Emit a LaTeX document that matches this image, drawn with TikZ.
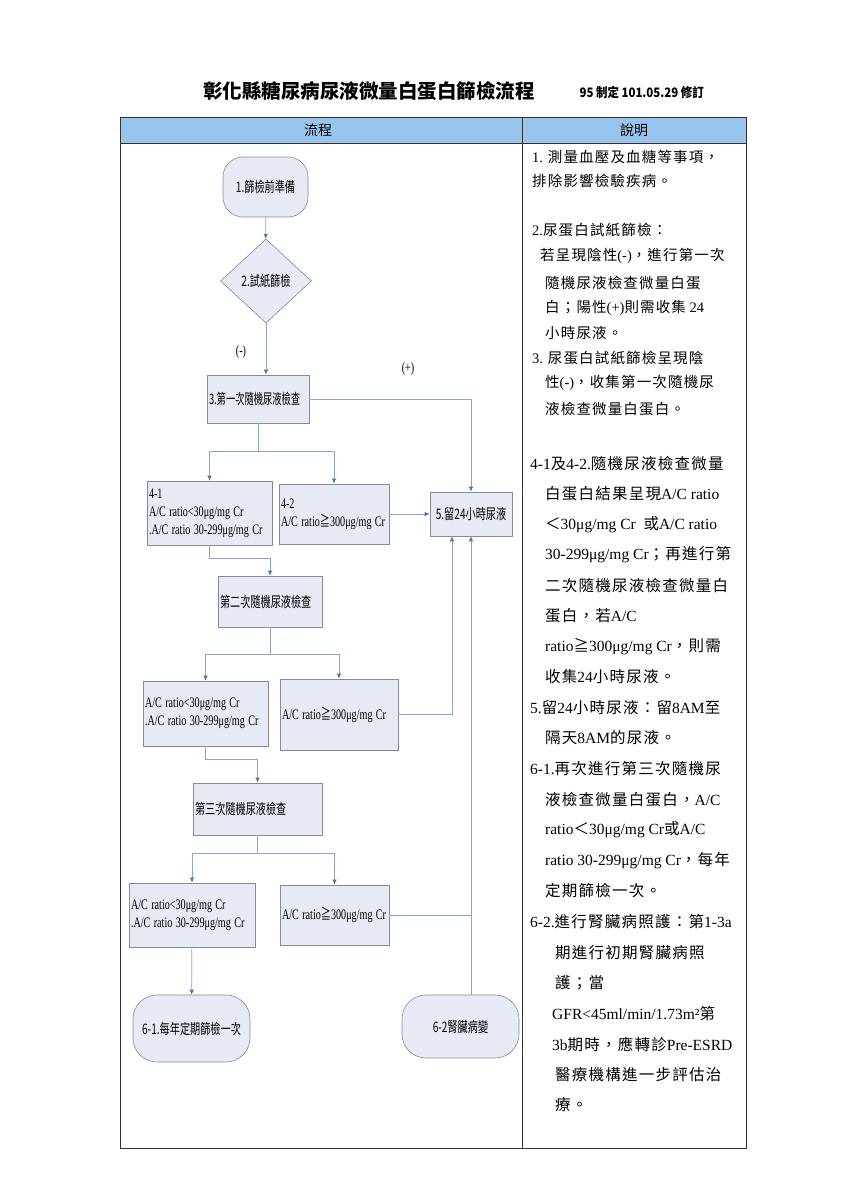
\documentclass[tikz,border=0pt]{standalone}
\usepackage{fontspec}
\usepackage{graphicx}
\usetikzlibrary{arrows.meta,shapes.geometric,calc}
\newfontfamily\cjk{Noto Sans CJK TC}
\newfontfamily\cjr[LetterSpace=8]{Noto Sans CJK TC}
\newfontfamily\nfr[FakeStretch=0.88]{Noto Sans CJK TC}
\newfontfamily\tmfont{Liberation Serif}
\newcommand\tmx[1]{{\tmfont #1}}
\newcommand\cjsq[2][0.7]{\scalebox{#1}[1]{\cjk #2}}
\newcommand\lsq[1]{\scalebox{0.7}[1]{\tmfont #1}}
\definecolor{hdr}{RGB}{153,196,238}
\definecolor{boxfill}{RGB}{230,234,245}
\definecolor{boxline}{RGB}{135,138,150}
\definecolor{conn}{RGB}{140,165,200}
\definecolor{tip}{RGB}{70,120,185}
\begin{document}
\begin{tikzpicture}[x=1pt,y=-1pt,
  tbl/.style={draw=black!80,line width=0.8pt},
  box/.style={draw=boxline,fill=boxfill,line width=0.6pt,inner sep=2pt,font=\fontsize{14.5}{18}\selectfont\cjk},
  lbox/.style={box,align=left},
  rbox/.style={box,rounded corners=20pt,align=center},
  arr/.style={draw=conn,line width=0.7pt,-{Latex[length=5pt,width=4.5pt,color=tip]}},
  cline/.style={draw=conn,line width=0.7pt},
  rt/.style={anchor=west,inner sep=0pt,font=\fontsize{14.5}{17}\selectfont\cjr},
  rtb/.style={anchor=west,inner sep=0pt,font=\fontsize{15.5}{18}\selectfont\cjr},
  lab/.style={font=\fontsize{14.5}{16}\selectfont}
]
\useasboundingbox (0,0) rectangle (849,1200);
\fill[white] (0,0) rectangle (849,1200);
% title
\node[font=\fontsize{19.5}{22}\selectfont\cjk\bfseries] (title) at (369,91) {彰化縣糖尿病尿液微量白蛋白篩檢流程};
\node[anchor=west,font=\fontsize{13}{15}\selectfont\nfr\bfseries] (rev) at (576,92) {95 制定 101.05.29 修訂};
% table
\fill[hdr] (120,117) rectangle (746,143);
\draw[tbl] (120,117) rectangle (746,1148);
\draw[tbl] (120,143) -- (746,143);
\draw[tbl] (522,117) -- (522,1148);
\node[font=\fontsize{14}{16}\selectfont\cjk] (h1) at (318,130) {流程};
\node[font=\fontsize{14}{16}\selectfont\cjk] (h2) at (634,130) {說明};
% flow nodes
\node[rbox,minimum width=85pt,minimum height=60pt] (n1) at (265.5,187) {\cjsq{1.篩檢前準備}};
\node[box,diamond,aspect=1.08,inner sep=0pt,minimum width=91pt,minimum height=84pt] (n2) at (266,281) {\cjsq{2.試紙篩檢}};
\node[lbox,text width=98pt,minimum height=48pt] (n3) at (258,399) {\cjsq[0.64]{3.第一次隨機尿液檢查}};
\node[lbox,text width=121pt,minimum height=64pt] (n41) at (209.5,513) {\lsq{4-1}\\\lsq{A/C ratio<30μg/mg Cr}\\\lsq{.A/C ratio 30-299μg/mg Cr}};
\node[lbox,text width=106pt,minimum height=60pt] (n42) at (334,514) {\lsq{4-2}\\\lsq{A/C ratio{\cjk ≧}300μg/mg Cr}};
\node[box,align=center,text width=78pt,minimum height=44pt] (n5) at (471,514) {\cjsq{5.留24小時尿液}};
\node[lbox,text width=100pt,minimum height=51pt] (n2nd) at (270,601.5) {\cjsq{第二次隨機尿液檢查}};
\node[lbox,text width=121pt,minimum height=65pt] (nL2) at (205.5,713.5) {\lsq{A/C ratio<30μg/mg Cr}\\\lsq{.A/C ratio 30-299μg/mg Cr}};
\node[lbox,text width=114pt,minimum height=71pt] (nR2) at (339,714.5) {\lsq{A/C ratio{\cjk ≧}300μg/mg Cr}};
\node[lbox,text width=125pt,minimum height=52pt] (n3rd) at (257.5,809) {\cjsq{第三次隨機尿液檢查}};
\node[lbox,text width=122pt,minimum height=64pt] (nL3) at (192,915) {\lsq{A/C ratio<30μg/mg Cr}\\\lsq{.A/C ratio 30-299μg/mg Cr}};
\node[lbox,text width=105pt,minimum height=60pt] (nR3) at (334.5,915) {\lsq{A/C ratio{\cjk ≧}300μg/mg Cr}};
\node[rbox,minimum width=117pt,minimum height=67pt,rounded corners=24pt] (n61) at (191.5,1028.5) {\cjsq{6-1.每年定期篩檢一次}};
\node[rbox,minimum width=117pt,minimum height=63pt,rounded corners=24pt] (n62) at (460.5,1026.5) {\cjsq{6-2腎臟病變}};
% labels
\node[lab] (lneg) at (241,352) {\lsq{(-)}};
\node[lab] (lpos) at (408,369) {\lsq{(+)}};
% connectors
\draw[arr] (n1) -- (n2);
\draw[arr] (n2.south) -- (n2.south |- n3.north);
\draw[arr] (n3.east) -| (n5.north);
\draw[cline] (n3.south) -- ++(0,28) coordinate (b1);
\draw[arr] (b1) -| (n41.north);
\draw[arr] (b1) -| (n42.north);
\draw[arr] (n42.east) -- (n5.west);
\draw[arr] (n41.south) -- ++(0,13) -| (n2nd.north);
\draw[cline] (n2nd.south) -- ++(0,27.5) coordinate (b2);
\draw[arr] (b2) -| (nL2.north);
\draw[arr] (b2) -| (nR2.north);
\draw[arr] (nR2.east) -| ([xshift=-19pt]n5.south);
\draw[arr] (nL2.south) -- ++(0,13.5) -| (n3rd.north);
\draw[cline] (n3rd.south) -- ++(0,18) coordinate (b3);
\draw[arr] (b3) -| (nL3.north);
\draw[arr] (b3) -| (nR3.north);
\draw[arr] (nL3) -- (n61);
\draw[arr] (n5.south |- n62.north) -- (n5.south);
\draw[cline] (nR3.east) -- (nR3.east -| n5.south);
% right column
\node[rt] (r1) at (532,157) {\tmx{1. }測量血壓及血糖等事項，};
\node[rt] (r2) at (532,181) {排除影響檢驗疾病。};
\node[rt] (r3) at (532,230) {\tmx{2.}尿蛋白試紙篩檢：};
\node[rt] (r4) at (540,256) {若呈現陰性\tmx{(-)}，進行第一次};
\node[rt] (r5) at (545,283) {隨機尿液檢查微量白蛋};
\node[rt] (r6) at (545,308) {白；陽性\tmx{(+)}則需收集\tmx{ 24}};
\node[rt] (r7) at (545,333) {小時尿液。};
\node[rt] (r8) at (532,358) {\tmx{3. }尿蛋白試紙篩檢呈現陰};
\node[rt] (r9) at (545,383) {性\tmx{(-)}，收集第一次隨機尿};
\node[rt] (r10) at (545,409) {液檢查微量白蛋白。};
\node[rtb] (r11) at (530,464) {\tmx{4-1}及\tmx{4-2.}隨機尿液檢查微量};
\node[rtb] (r12) at (545,494) {白蛋白結果呈現\tmx{A/C ratio}};
\node[rtb] (r13) at (545,525) {＜\tmx{30μg/mg Cr\ \ }或\tmx{A/C ratio}};
\node[rtb] (r14) at (545,555) {\tmx{30-299μg/mg Cr}；再進行第};
\node[rtb] (r15) at (545,586) {二次隨機尿液檢查微量白};
\node[rtb] (r16) at (545,616) {蛋白，若\tmx{A/C}};
\node[rtb] (r17) at (545,647) {\tmx{ratio}≧\tmx{300μg/mg Cr}，則需};
\node[rtb] (r18) at (545,677) {收集\tmx{24}小時尿液。};
\node[rtb] (r19) at (530,708) {\tmx{5.}留\tmx{24}小時尿液：留\tmx{8AM}至};
\node[rtb] (r20) at (545,738) {隔天\tmx{8AM}的尿液。};
\node[rtb] (r21) at (530,769) {\tmx{6-1.}再次進行第三次隨機尿};
\node[rtb] (r22) at (545,800) {液檢查微量白蛋白，\tmx{A/C}};
\node[rtb] (r23) at (545,830) {\tmx{ratio}＜\tmx{30μg/mg Cr}或\tmx{A/C}};
\node[rtb] (r24) at (545,861) {\tmx{ratio 30-299μg/mg Cr}，每年};
\node[rtb] (r25) at (545,891) {定期篩檢一次。};
\node[rtb] (r26) at (530,922) {\tmx{6-2.}進行腎臟病照護：第\tmx{1-3a}};
\node[rtb] (r27) at (555,953) {期進行初期腎臟病照};
\node[rtb] (r28) at (555,983) {護；當};
\node[rtb] (r29) at (552,1014) {\tmx{GFR<45ml/min/1.73m²}第};
\node[rtb] (r30) at (552,1044) {\tmx{3b}期時，應轉診\tmx{Pre-ESRD}};
\node[rtb] (r31) at (555,1075) {醫療機構進一步評估治};
\node[rtb] (r32) at (555,1105) {療。};
\end{tikzpicture}
\end{document}
